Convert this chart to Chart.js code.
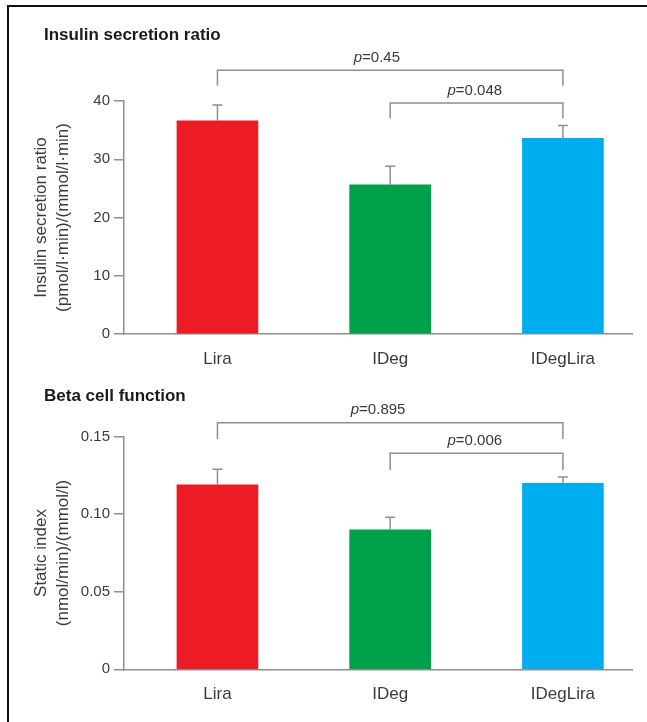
<!DOCTYPE html>
<html>
<head>
<meta charset="utf-8">
<script src="https://cdn.jsdelivr.net/npm/chart.js@4"></script>
<style>
	body { margin: 0; background: #fff; }
	#page { position: relative; width: 647px; height: 722px; overflow: hidden; }
	#frame { position: absolute; left: 7px; top: 5px; right: -10px; bottom: -10px; border-left: 2px solid #111; border-top: 2px solid #111; }
	canvas { position: absolute; left: 0; }
</style>
</head>
<body>
<div id="page">
	<div id="frame"></div>
	<canvas id="ratio" width="647" height="370" style="top:0"></canvas>
	<canvas id="static" width="647" height="352" style="top:370px"></canvas>
</div>
<script>
const categories = ['Lira', 'IDeg', 'IDegLira']
const barColors = ['#ed1c24', '#00a14b', '#00aeef']

const ratioMeans = [36.6, 25.6, 33.6]
const ratioUpper = [39.3, 28.8, 35.8]
const ratioTicks = [0, 10, 20, 30, 40]
const ratioTickLabels = ['0', '10', '20', '30', '40']
const ratioPValues = ['0.45', '0.048']

const staticMeans = [0.119, 0.090, 0.120]
const staticUpper = [0.129, 0.098, 0.124]
const staticTicks = [0, 0.05, 0.10, 0.15]
const staticTickLabels = ['0', '0.05', '0.10', '0.15']
const staticPValues = ['0.895', '0.006']

const comparisons = [[0, 2], [1, 2]]

const FONT = '"Liberation Sans", Arial, Helvetica, sans-serif'
const AXIS = '#8f8f8f'
const TEXT = '#3a3a3a'

// error bars, significance brackets and panel title
const annotate = {
	id: 'annotate',
	afterDatasetsDraw(chart, args, opts) {
		const ctx = chart.ctx
		const x = chart.scales.x, y = chart.scales.y
		const meta = chart.getDatasetMeta(0)
		ctx.save()
		ctx.strokeStyle = AXIS
		ctx.lineWidth = 1.5
		opts.upper.forEach((u, i) => {
			const bar = meta.data[i]
			const top = y.getPixelForValue(u)
			ctx.beginPath()
			ctx.moveTo(bar.x, bar.y)
			ctx.lineTo(bar.x, top)
			ctx.moveTo(bar.x - 5, top)
			ctx.lineTo(bar.x + 5, top)
			ctx.stroke()
		})
		opts.brackets.forEach((b, i) => {
			const [a, c] = comparisons[i]
			const x1 = x.getPixelForValue(a), x2 = x.getPixelForValue(c)
			const yl = y.getPixelForValue(b.y), yd = y.getPixelForValue(b.drop)
			ctx.beginPath()
			ctx.moveTo(x1, yd)
			ctx.lineTo(x1, yl)
			ctx.lineTo(x2, yl)
			ctx.lineTo(x2, yd)
			ctx.stroke()
			const rest = '=' + opts.pValues[i]
			ctx.font = 'italic 15px ' + FONT
			const pw = ctx.measureText('p').width
			ctx.font = '15px ' + FONT
			const rw = ctx.measureText(rest).width
			let sx = x.getPixelForValue(b.textAt) - (pw + rw) / 2
			const ty = yl - 12.5
			ctx.fillStyle = TEXT
			ctx.textBaseline = 'middle'
			ctx.textAlign = 'left'
			ctx.font = 'italic 15px ' + FONT
			ctx.fillText('p', sx, ty)
			ctx.font = '15px ' + FONT
			ctx.fillText(rest, sx + pw, ty)
		})
		ctx.fillStyle = '#1a1a1a'
		ctx.font = 'bold 17px ' + FONT
		ctx.textBaseline = 'middle'
		ctx.textAlign = 'left'
		ctx.fillText(opts.title, 44, opts.titleY)
		ctx.restore()
	}
}

function makeChart(id, means, ticks, tickLabels, yMax, titleLines, pad, annot) {
	return new Chart(id, {
		type: 'bar',
		data: {
			datasets: [{
				data: means.map((v, i) => ({ x: i, y: v })),
				backgroundColor: barColors,
				borderWidth: 0,
				barThickness: 81
			}]
		},
		options: {
			responsive: false,
			animation: false,
			layout: { padding: pad },
			plugins: {
				legend: { display: false },
				tooltip: { enabled: false },
				annotate: annot
			},
			scales: {
				x: {
					type: 'linear',
					offset: false,
					min: -0.541,
					max: 2.40,
					afterBuildTicks: s => { s.ticks = categories.map((c, i) => ({ value: i })) },
					afterFit: s => { s.height = 36 },
					grid: { display: false, drawTicks: false },
					border: { display: true, color: AXIS, width: 1.5 },
					ticks: {
						callback: v => categories[v],
						color: TEXT,
						font: { family: FONT, size: 17 },
						padding: 15,
						maxRotation: 0,
						autoSkip: false
					}
				},
				y: {
					min: 0,
					max: yMax,
					afterBuildTicks: s => { s.ticks = ticks.map(v => ({ value: v })) },
					afterFit: s => { s.width = 124 },
					grid: { drawOnChartArea: false, drawTicks: true, tickLength: 10, color: AXIS, lineWidth: 1.5 },
					border: { display: true, color: AXIS, width: 1.5 },
					ticks: {
						callback: (v, i) => tickLabels[i],
						color: TEXT,
						font: { family: FONT, size: 15 },
						padding: 4
					},
					title: {
						display: true,
						text: titleLines,
						color: TEXT,
						font: { family: FONT, size: 17, lineHeight: 1.25 },
						padding: { top: 31, bottom: 0 }
					}
				}
			}
		},
		plugins: [annotate]
	})
}

makeChart('ratio', ratioMeans, ratioTicks, ratioTickLabels, 40,
	['Insulin secretion ratio', '(pmol/l·min)/(mmol/l·min)'],
	{ top: 101, right: 15, bottom: 0, left: 0 },
	{
		upper: ratioUpper,
		pValues: ratioPValues,
		brackets: [{ y: 45.3, drop: 42.6, textAt: 0.923 }, { y: 39.66, drop: 37.0, textAt: 1.49 }],
		title: 'Insulin secretion ratio',
		titleY: 35
	})

makeChart('static', staticMeans, staticTicks, staticTickLabels, 0.15,
	['Static index', '(nmol/min)/(mmol/l)'],
	{ top: 66.7, right: 15, bottom: 16.7, left: 0 },
	{
		upper: staticUpper,
		pValues: staticPValues,
		brackets: [{ y: 0.159, drop: 0.1485, textAt: 0.93 }, { y: 0.1393, drop: 0.1286, textAt: 1.49 }],
		title: 'Beta cell function',
		titleY: 26
	})
</script>
</body>
</html>
